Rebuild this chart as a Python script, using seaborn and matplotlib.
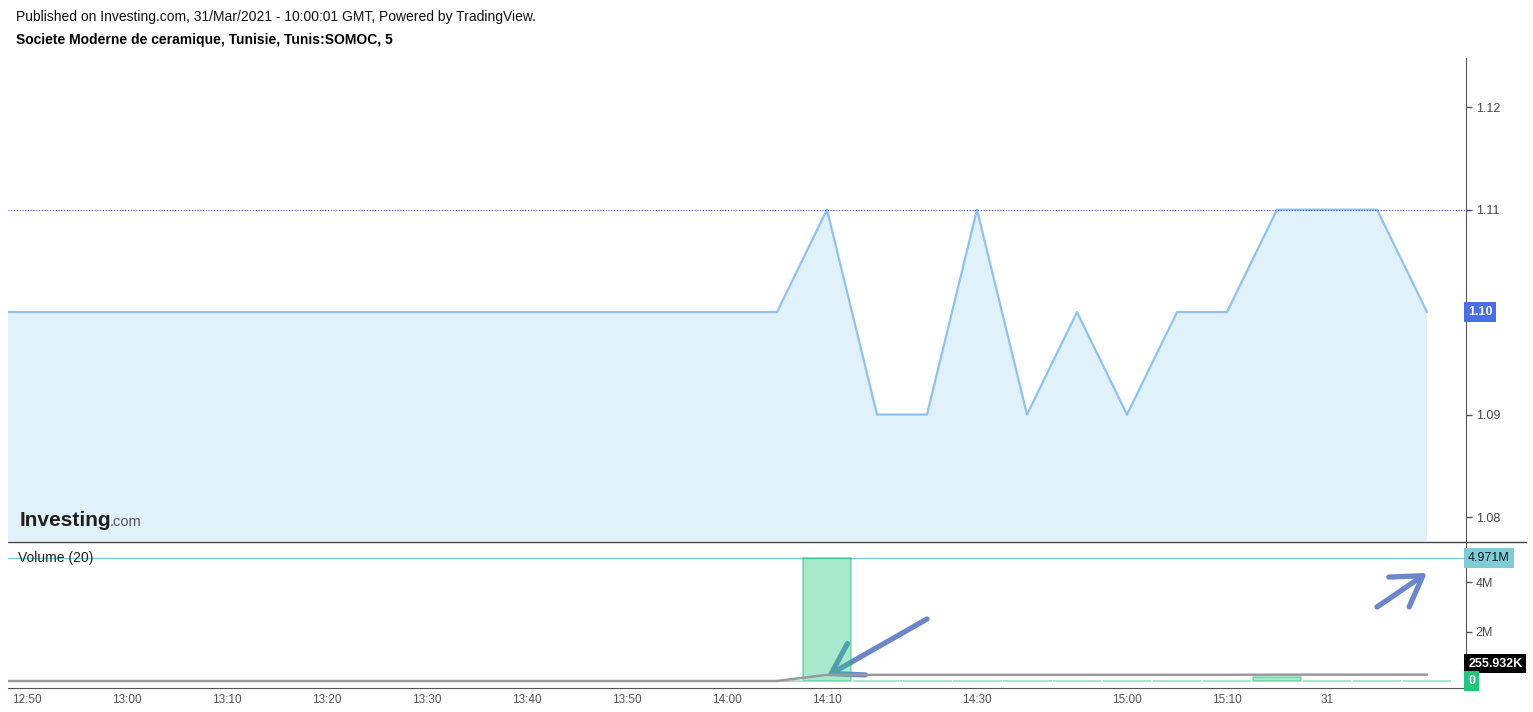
import matplotlib
matplotlib.use("Agg")
import matplotlib.pyplot as plt
import seaborn as sns
import numpy as np
import pandas as pd

# bar index -1 .. 28 (5 minute bars)
bar_idx = list(range(-1, 29))
price = [1.10] * 17 + [1.11, 1.09, 1.09, 1.11, 1.09, 1.10, 1.09, 1.10, 1.10,
                       1.11, 1.11, 1.11, 1.10]
volume = [0] * 17 + [4971000] + [0] * 8 + [147640] + [0] * 3
tick_idx = [0, 2, 4, 6, 8, 10, 12, 14, 16, 19, 22, 24, 26]
tick_labels = ["12:50", "13:00", "13:10", "13:20", "13:30", "13:40", "13:50",
               "14:00", "14:10", "14:30", "15:00", "15:10", "31"]
last_price = 1.10
high_line = 1.11
# user drawn arrows (tail, head) in bar index / volume units
arrows = [((18, 2.506e6), (16, 0.2e6)), ((27, 2.99e6), (28, 4.37e6))]

df = pd.DataFrame({"idx": bar_idx, "price": price, "volume": volume})
df["ma"] = df["volume"].rolling(20, min_periods=1).sum() / 20

sns.set_style("white")
plt.rcParams["font.family"] = ["Liberation Sans", "DejaVu Sans"]

fig = plt.figure(figsize=(15.33, 7.12), dpi=100)
W, H = 1533, 712
ax1 = fig.add_axes([8 / W, 1 - 541 / H, (1466 - 8) / W, (541 - 58) / H])
ax2 = fig.add_axes([8 / W, 1 - 688 / H, (1466 - 8) / W, (688 - 542) / H])

xlim = (-0.38, 28.78)

# price pane
ax1.fill_between(df["idx"], df["price"], 1.0, color="#e1f1fa", lw=0, zorder=1)
sns.lineplot(data=df, x="idx", y="price", ax=ax1, color="#8ec2f0", lw=1.6, zorder=2)
ax1.axhline(high_line, color="#3d5ccf", lw=0.8, ls=(0, (1, 1.5)), zorder=3)
ax1.set_xlim(*xlim)
ax1.set_ylim(1.07766, 1.1248)
ax1.yaxis.tick_right()
ax1.set_yticks([1.08, 1.09, 1.10, 1.11, 1.12])
ax1.set_yticklabels(["1.08", "1.09", "", "1.11", "1.12"])
ax1.set_xticks([])
ax1.set_xlabel("")
ax1.set_ylabel("")
ax1.tick_params(axis="y", length=4, width=1, color="#555555", labelcolor="#4a4a4a",
                labelsize=9, pad=3, right=True)
for s in ["left", "top", "bottom"]:
    ax1.spines[s].set_visible(False)
ax1.spines["right"].set_color("#555555")
ax1.text(1.0015, last_price, "1.10", transform=ax1.get_yaxis_transform(),
         color="white", fontsize=9, fontweight="bold", va="center", ha="left",
         bbox=dict(boxstyle="square,pad=0.3", fc="#4a6ee6", ec="none"), clip_on=False)

# volume pane
for (tx, ty), (hx, hy) in arrows:
    ax2.annotate("", xy=(hx, hy), xytext=(tx, ty),
                 arrowprops=dict(arrowstyle="->,head_length=0.8,head_width=0.5",
                                 color="#6c86c9", lw=3.8, mutation_scale=26,
                                 shrinkA=0, shrinkB=0),
                 zorder=2)
sns.barplot(data=df, x="idx", y="volume", ax=ax2, native_scale=True, width=0.98,
            color="#26c882", saturation=1, alpha=0.4, edgecolor="#00b060",
            linewidth=1.2, errorbar=None, zorder=3)
sns.lineplot(data=df, x="idx", y="ma", ax=ax2, color="#9a9a9a", lw=1.8, zorder=4)
vmax = df["volume"].max()
ax2.axhline(vmax, color="#7ccdd8", lw=1, zorder=1)
ax2.set_xlim(*xlim)
ax2.set_ylim(-0.283e6, 5.618e6)
ax2.yaxis.tick_right()
ma_last = df["ma"].iloc[-1]
ax2.set_yticks([0, 2e6, 4e6, vmax, ma_last])
ax2.set_yticklabels(["", "2M", "4M", "", ""])
ax2.set_xticks(tick_idx)
ax2.set_xticklabels(tick_labels)
ax2.set_xlabel("")
ax2.set_ylabel("")
ax2.tick_params(axis="y", length=4, width=1, color="#555555", labelcolor="#4a4a4a",
                labelsize=9, pad=3, right=True)
ax2.tick_params(axis="x", length=0, labelcolor="#555555", labelsize=8.5, pad=4)
for s in ["left", "top"]:
    ax2.spines[s].set_visible(False)
for s in ["right", "bottom"]:
    ax2.spines[s].set_color("#555555")

yt = ax2.get_yaxis_transform()
ax2.text(1.0015, vmax, "4.971M", transform=yt, color="#1a1a1a", fontsize=9,
         va="center", ha="left", clip_on=False,
         bbox=dict(boxstyle="square,pad=0.3", fc="#80cbd8", ec="none"))
ax2.text(1.0015, 0.7e6, "255.932K", transform=yt, color="white", fontsize=9,
         fontweight="bold", va="center", ha="left", clip_on=False,
         bbox=dict(boxstyle="square,pad=0.3", fc="black", ec="none"))
ax2.text(1.0015, 0, "0", transform=yt, color="white", fontsize=9,
         fontweight="bold", va="center", ha="left", clip_on=False,
         bbox=dict(boxstyle="square,pad=0.3", fc="#22c47e", ec="none"))
ax2.text(10 / 1458, vmax, "Volume (20)", transform=yt, color="#222222",
         fontsize=10, va="center", ha="left")

# pane separator
fig.add_artist(plt.Line2D([8 / W, 1526 / W], [1 - 541.5 / H] * 2, color="#444444", lw=1))

# header
fig.text(16 / W, 1 - 17 / H, "Published on Investing.com, 31/Mar/2021 - 10:00:01 GMT, Powered by TradingView.",
         fontsize=10, color="#111111", va="center", ha="left")
fig.text(16 / W, 1 - 40 / H, "Societe Moderne de ceramique, Tunisie, Tunis:SOMOC, 5",
         fontsize=10, fontweight="bold", color="#000000", va="center", ha="left")

# watermark
fig.text(20 / W, 1 - 520 / H, "Investing", fontsize=15, fontweight="bold",
         color="#1e1e1e", va="center", ha="left")
fig.text(110 / W, 1 - 522 / H, ".com", fontsize=10.5, color="#555555",
         va="center", ha="left")

fig.savefig("out.png", dpi=100)
